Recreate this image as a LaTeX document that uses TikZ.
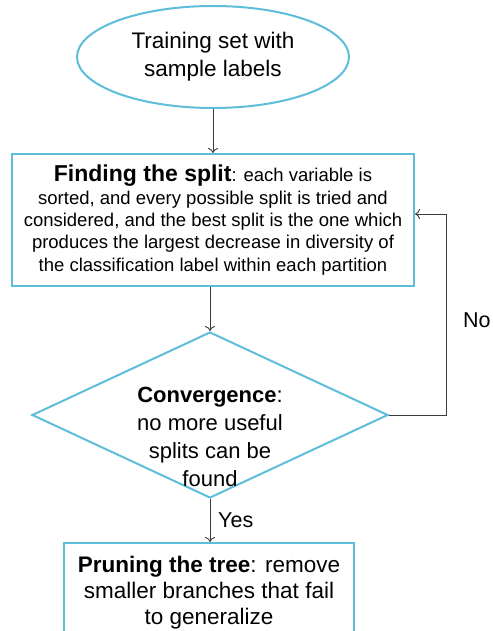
\documentclass[tikz,border=0pt]{standalone}
\usepackage{fontspec}
\setmainfont{Liberation Sans}
\usetikzlibrary{shapes.geometric,arrows.meta}
\definecolor{flowblue}{RGB}{94,190,218}
\definecolor{linegray}{RGB}{60,60,60}
\tikzset{
  shapeline/.style={draw=flowblue, line width=2pt, fill=white, inner sep=0pt},
  startnode/.style={shapeline, ellipse, minimum width=272pt, minimum height=102pt, align=center, font=\fontsize{22.5}{28}\selectfont},
  procbox/.style={shapeline, rectangle, align=center},
  decision/.style={shapeline, diamond, minimum width=356pt, minimum height=166pt},
  arr/.style={draw=linegray, line width=0.9pt, -{To[length=5pt,width=10pt]}},
  lbl/.style={font=\fontsize{21.5}{26}\selectfont, inner sep=0pt}
}
\begin{document}
\begin{tikzpicture}[x=1pt,y=-1pt]
\useasboundingbox (0,0) rectangle (492,631);
\clip (0,0) rectangle (492,631);
\fill[white] (0,0) rectangle (492,631);

\node[startnode] (start) at (213,57) {Training set with\\sample labels};

\node[procbox, minimum width=402pt, minimum height=132pt,
      font=\fontsize{18.5}{22.3}\selectfont] (split) at (213,220)
  {{\fontsize{23}{22.3}\selectfont\bfseries Finding the split}: each variable is\\
   sorted, and every possible split is tried and\\
   considered, and the best split is the one which\\
   produces the largest decrease in diversity of\\
   the classification label within each partition};

\node[decision] (conv) at (210,415) {};
\node[align=center, inner sep=0pt, font=\fontsize{22}{28}\selectfont] (convtext) at (210,437)
  {\textbf{Convergence}:\\no more useful\\splits can be\\found};

\node[procbox, minimum width=290pt, minimum height=100pt,
      font=\fontsize{22.5}{26}\selectfont] (prune) at (209,593)
  {\textbf{Pruning the tree}: remove\\smaller branches that fail\\to generalize};

\coordinate (loopc) at (446,214);

\draw[arr] (start.south) -- (start.south |- split.north);
\draw[arr] (conv.north |- split.south) -- (conv.north);
\draw[arr] (conv.south) -- (conv.south |- prune.north);
\draw[arr] (conv.east) -- (conv.east -| loopc) -- (loopc) -- (loopc -| split.east);

\node[lbl, anchor=west] (nolbl) at (463,320) {No};
\node[lbl, anchor=west] (yeslbl) at (218,520) {Yes};
\end{tikzpicture}
\end{document}
